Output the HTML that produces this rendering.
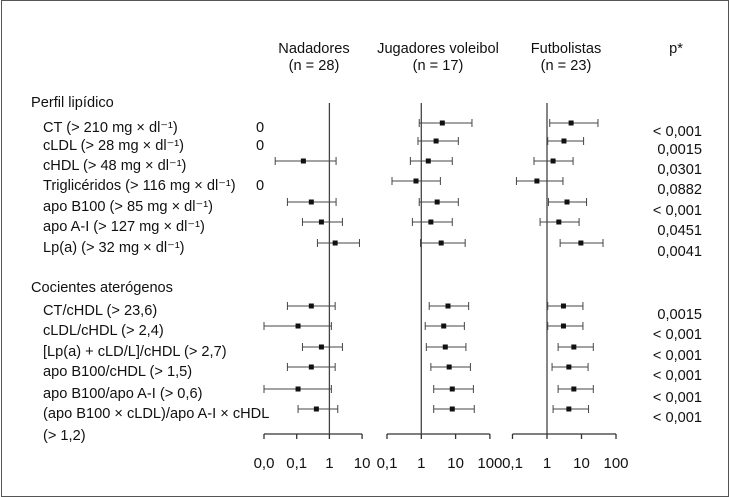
<!DOCTYPE html>
<html><head><meta charset="utf-8"><style>
html,body{margin:0;padding:0;background:#fff}
svg{display:block}
text{font-family:"Liberation Sans",sans-serif;font-size:14.6px;fill:#111}
text.tick{font-size:15px}
</style></head><body>
<svg id="chart" width="730" height="497" viewBox="0 0 730 497" xmlns="http://www.w3.org/2000/svg">
<rect x="1.5" y="0.5" width="727" height="496" fill="#fff" stroke="#555" stroke-width="1"/>
<g id="labels"></g>
<g id="plots"></g>
</svg>
<script>
const rowLabels = ["CT (> 210 mg × dl⁻¹)","cLDL (> 28 mg × dl⁻¹)","cHDL (> 48 mg × dl⁻¹)","Triglicéridos (> 116 mg × dl⁻¹)","apo B100 (> 85 mg × dl⁻¹)","apo A-I (> 127 mg × dl⁻¹)","Lp(a) (> 32 mg × dl⁻¹)","CT/cHDL (> 23,6)","cLDL/cHDL (> 2,4)","[Lp(a) + cLD/L]/cHDL (> 2,7)","apo B100/cHDL (> 1,5)","apo B100/apo A-I (> 0,6)","(apo B100 × cLDL)/apo A-I × cHDL"];
const rowY = [127,145,165,185,206,226,247,310,330,351,371,393,413];
const pValues = ["< 0,001","0,0015","0,0301","0,0882","< 0,001","0,0451","0,0041","0,0015","< 0,001","< 0,001","< 0,001","< 0,001","< 0,001"];
const nadEst = [null,null,0.16,null,0.28,0.57,1.5,0.28,0.11,0.57,0.28,0.11,0.4];
const nadLo  = [null,null,0.022,null,0.052,0.15,0.43,0.052,0.01,0.15,0.052,0.01,0.11];
const nadHi  = [null,null,1.6,null,1.6,2.5,8.3,1.5,1.15,2.5,1.5,1.15,1.8];
const volEst = [4.1,2.7,1.6,0.7,2.9,1.9,3.8,6,4.5,5,6.5,8,8];
const volLo  = [0.87,0.8,0.48,0.14,0.87,0.55,0.95,1.7,1.3,1.4,1.9,2.3,2.3];
const volHi  = [30,12,8,3.6,12,8,19,24,18,20,27,33,35];
const futEst = [5,3.1,1.5,0.51,3.8,2.2,9.6,3.0,3.0,6,4.3,6,4.3];
const futLo  = [1.2,1.05,0.42,0.13,1.1,0.63,2.4,1.05,1.05,2.1,1.4,2.1,1.5];
const futHi  = [30,11.5,5.7,2.9,14,8.5,42,11,11,22,15.5,22,16];
const nadTicks = [["0,0",0.01],["0,1",0.1],["1",1],["10",10]];
const volTicks = [["0,1",0.1],["1",1],["10",10],["100",100]];
const futTicks = [["0,1",0.1],["1",1],["10",10],["100",100]];
const zeroRows = [0,1,3];

const NS="http://www.w3.org/2000/svg";
function mk(tag,attrs,parent,txt){const e=document.createElementNS(NS,tag);for(const k in attrs)e.setAttribute(k,attrs[k]);if(txt!=null)e.textContent=txt;parent.appendChild(e);return e;}
const L=document.getElementById('labels'), P=document.getElementById('plots');
function t(x,y,s,anchor,name){const e=mk('text',{x:x,y:y,'text-anchor':anchor||'start'},L,s);

return e;}
t(314,53,"Nadadores","middle","header-nadadores");t(314,70,"(n = 28)","middle","header-n-nadadores");
t(438,53,"Jugadores voleibol","middle","header-voleibol");t(438,70,"(n = 17)","middle","header-n-voleibol");
t(566,53,"Futbolistas","middle","header-futbolistas");t(566,70,"(n = 23)","middle","header-n-futbolistas");
t(676,53,"p*","middle","header-p");
t(31,107,"Perfil lipídico","start","section-perfil-lipidico");
t(31,292,"Cocientes aterógenos","start","section-cocientes");
rowLabels.forEach((s,i)=>{t(43,rowY[i]+5,s,"start","row-label");});
t(43,440,"(> 1,2)","start","row-label-cont");
pValues.forEach((s,i)=>{t(702,rowY[i]+9,s,"end","p-value");});
zeroRows.forEach(i=>{t(256,rowY[i]+5,"0","start","zero-count");});

const axisY=434;
function panel(name,x0,pxDec,minV,ticks,est,lo,hi){
  const sx=v=>x0+Math.log10(v/minV)*pxDec;
  const g=mk('g',{},P);
  
  
  const a=mk('line',{x1:sx(ticks[0][1]),x2:sx(ticks[ticks.length-1][1]),y1:axisY,y2:axisY,stroke:'#333','stroke-width':1.3},g);
  
  
  ticks.forEach(tk=>{
    const tl=mk('line',{x1:sx(tk[1]),x2:sx(tk[1]),y1:axisY,y2:axisY+5,stroke:'#333','stroke-width':1.3},g);
    
    
    const tx=mk('text',{x:sx(tk[1]),y:468,'text-anchor':'middle','class':'tick'},g,tk[0]);
    
    
  });
  const ref=mk('line',{x1:sx(1),x2:sx(1),y1:103,y2:axisY,stroke:'#444','stroke-width':1.3},g);
  
  
  est.forEach((v,i)=>{
    if(v==null)return;
    const y=rowY[i]-4;
    const ci=mk('line',{x1:sx(lo[i]),x2:sx(hi[i]),y1:y,y2:y,stroke:'#444','stroke-width':1},g);
    
    
    [lo[i],hi[i]].forEach(c=>{
      const cap=mk('line',{x1:sx(c),x2:sx(c),y1:y-4,y2:y+4,stroke:'#444','stroke-width':1},g);
      
      
    });
    const m=mk('rect',{x:sx(v)-2.5,y:y-2.5,width:5,height:5,fill:'#111'},g);
    
    
  });
}
panel('nadadores',264,32.7,0.01,nadTicks,nadEst,nadLo,nadHi);
panel('voleibol',387,34.3,0.1,volTicks,volEst,volLo,volHi);
panel('futbolistas',512.5,34.5,0.1,futTicks,futEst,futLo,futHi);
</script>
</body></html>
